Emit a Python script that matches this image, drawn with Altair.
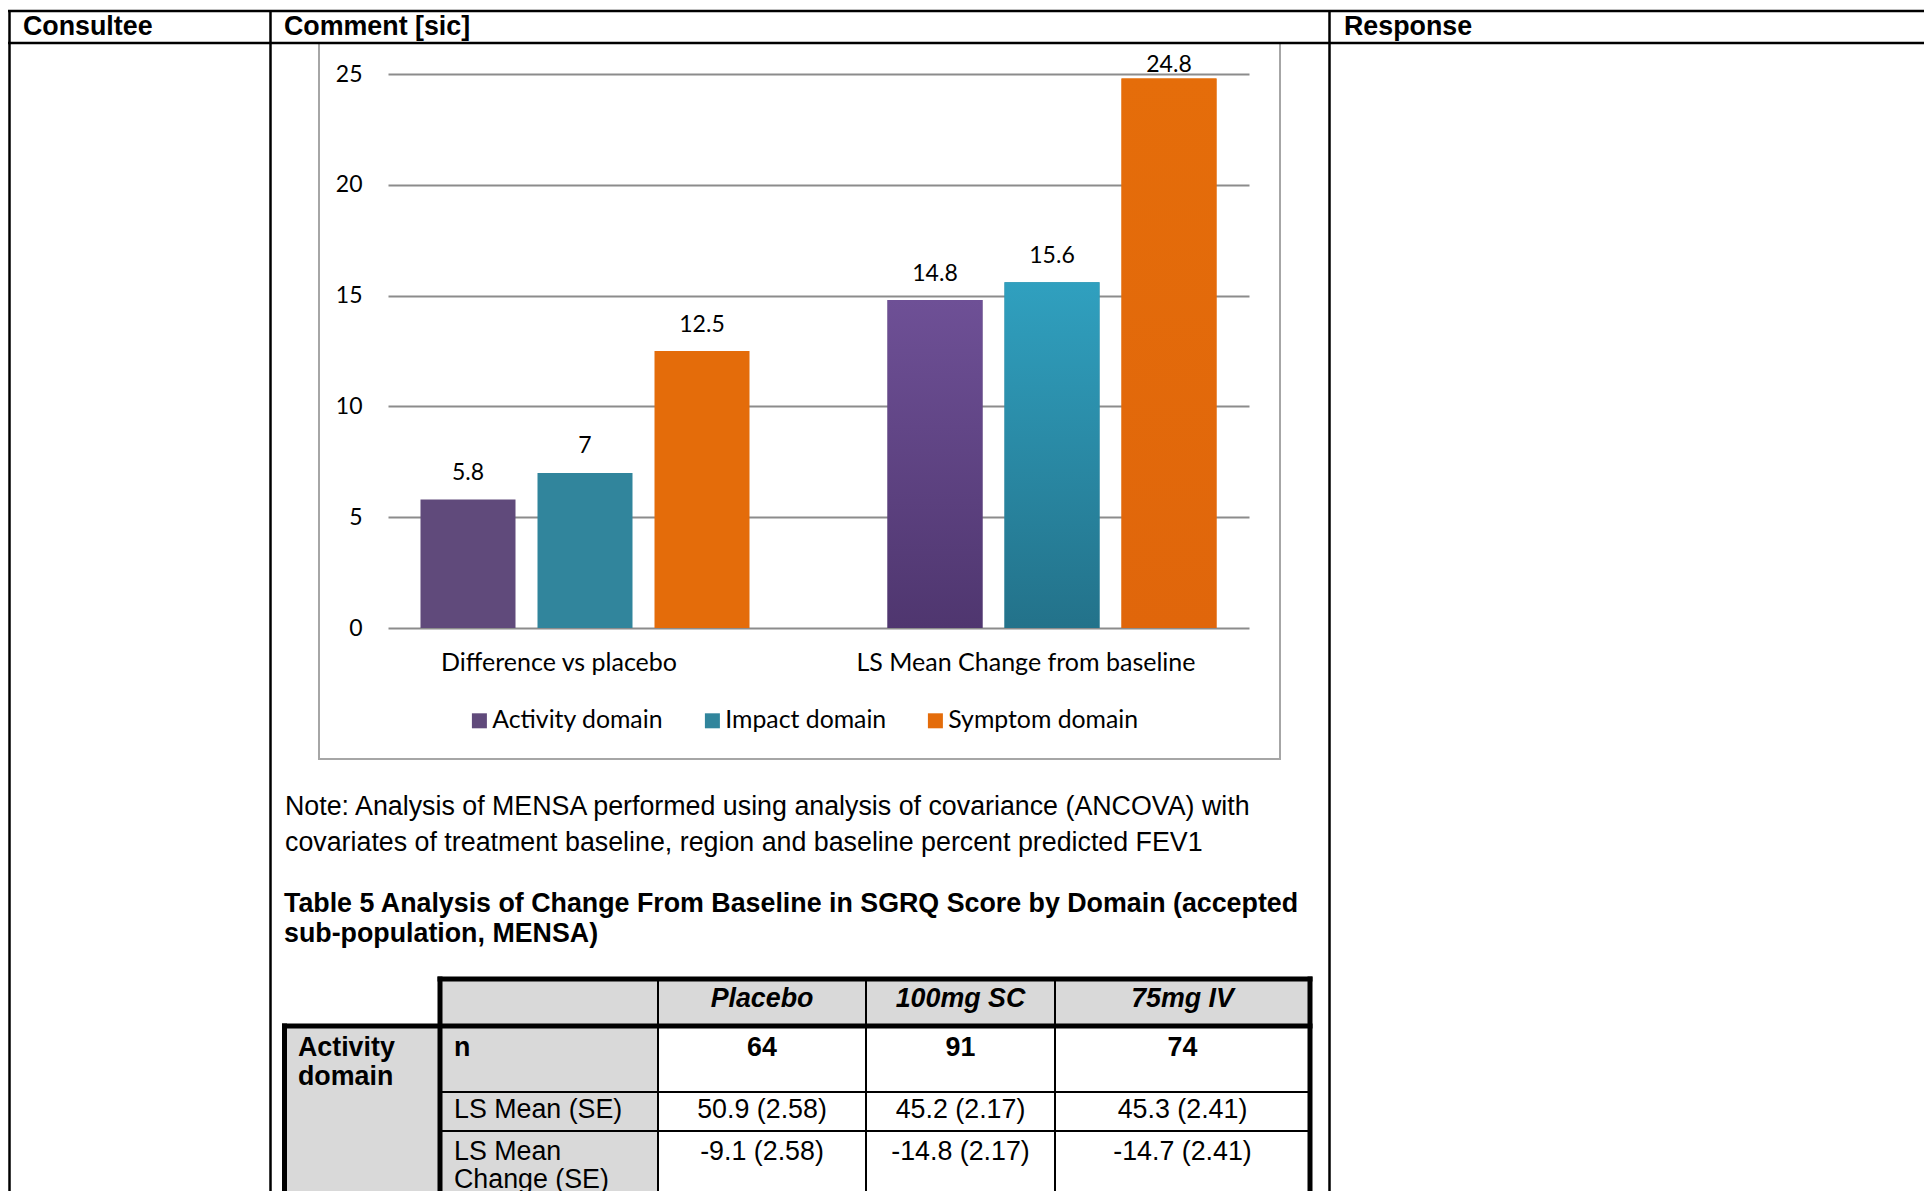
import altair as alt
import pandas as pd

# ---------------- chart values ----------------
groups = ["Difference vs placebo", "LS Mean Change from baseline"]
domains = ["Activity domain", "Impact domain", "Symptom domain"]
diff_vs_placebo = [5.8, 7, 12.5]
ls_mean_change_domain = [14.8, 15.6, 24.8]
domain_colors = ["#604a7b", "#31859c", "#e46c0a"]
y_ticks = [0, 5, 10, 15, 20, 25]

# shaded fills used for the second group of bars (top colour, bottom colour)
shaded = {
    "Activity domain": ("#6e5096", "#4f366f"),
    "Impact domain": ("#30a0bf", "#23728a"),
    "Symptom domain": ("#e56d0a", "#e0660b"),
}

# ---------------- table values ----------------
arms = ["Placebo", "100mg SC", "75mg IV"]
n_patients = [64, 91, 74]
ls_mean = [50.9, 45.2, 45.3]
ls_mean_chg = [-9.1, -14.8, -14.7]
ls_se = [2.58, 2.17, 2.41]

note_lines = [
    "Note: Analysis of MENSA performed using analysis of covariance (ANCOVA) with",
    "covariates of treatment baseline, region and baseline percent predicted FEV1",
]
table_title = [
    "Table 5 Analysis of Change From Baseline in SGRQ Score by Domain (accepted",
    "sub-population, MENSA)",
]

rows = []
for g, vals in zip(groups, [diff_vs_placebo, ls_mean_change_domain]):
    for d, v in zip(domains, vals):
        rows.append({"group": g, "domain": d, "value": v, "label": f"{v:g}"})
bars = pd.DataFrame(rows)

# ---------------- page geometry ----------------
PAGE_W, PAGE_H = 1924, 1191
OX, OY = 388, 74          # top-left corner of the plotting area on the page
W, H = 861, 554           # plotting area

ARIAL = "Liberation Sans"
TEXT_SIZE = 26.8
CHART_FONT = "Lato"

one = pd.DataFrame({"k": [0]})


def rule(x1, y1, x2, y2, width=2.5, color="#000000"):
    return alt.Chart(one).mark_rule(color=color, strokeWidth=width).encode(
        x=alt.value(x1 - OX), x2=alt.value(x2 - OX),
        y=alt.value(y1 - OY), y2=alt.value(y2 - OY),
    )


def box(x1, y1, x2, y2, fill=None, stroke=None, width=0):
    kw = {"strokeWidth": width}
    if fill is not None:
        kw["fill"] = fill
    else:
        kw["fillOpacity"] = 0
    if stroke is not None:
        kw["stroke"] = stroke
    return alt.Chart(one).mark_rect(**kw).encode(
        x=alt.value(x1 - OX), x2=alt.value(x2 - OX),
        y=alt.value(y1 - OY), y2=alt.value(y2 - OY),
    )


def label(s, x, y, weight="normal", style="normal", align="left", size=TEXT_SIZE):
    return alt.Chart(one).mark_text(
        font=ARIAL, fontSize=size, fontWeight=weight, fontStyle=style,
        align=align, baseline="alphabetic", color="#000000",
    ).encode(x=alt.value(x - OX), y=alt.value(y - OY), text=alt.value(s))


# ---------------- bar chart ----------------
x_enc = alt.X(
    "group:N", sort=groups, title=None,
    scale=alt.Scale(paddingInner=0.2955, paddingOuter=0.0696),
    axis=alt.Axis(
        labelAngle=0, ticks=False, tickSize=0, domain=False, grid=False,
        labelFont=CHART_FONT, labelFontSize=25, labelColor="#000000", labelLimit=0,
        labelBaseline="alphabetic", labelPadding=42, labelOffset=-26,
    ),
)
xo_enc = alt.XOffset("domain:N", sort=domains,
                     scale=alt.Scale(paddingInner=22 / 117, paddingOuter=0))
y_enc = alt.Y(
    "value:Q", title=None,
    scale=alt.Scale(domain=[0, 25], nice=False, zero=True),
    axis=alt.Axis(
        values=y_ticks, domain=False, ticks=False, tickSize=0,
        labelFont=CHART_FONT, labelFontSize=23, labelColor="#000000",
        labelPadding=26, gridColor="#8c8c8c", gridWidth=2, gridOpacity=1,
    ),
)

base = alt.Chart(bars).encode(x=x_enc, xOffset=xo_enc, y=y_enc)

bar_layer = base.mark_bar(stroke=None).encode(
    color=alt.Color(
        "domain:N", sort=domains,
        scale=alt.Scale(domain=domains, range=domain_colors),
        legend=alt.Legend(
            title=None, orient="none", direction="horizontal", columns=3,
            legendX=467 - OX, legendY=708 - OY, padding=0,
            symbolType="square", symbolSize=225, symbolStrokeWidth=0,
            labelFont=CHART_FONT, labelFontSize=24.8, labelColor="#000000",
            labelLimit=0, labelOffset=0.5, columnPadding=36,
        ),
    )
)

shade_layers = []
for d in domains:
    top, bottom = shaded[d]
    shade_layers.append(
        base.transform_filter(
            (alt.datum.group == groups[1]) & (alt.datum.domain == d)
        ).mark_bar(
            fill={
                "gradient": "linear", "x1": 0, "x2": 0, "y1": 0, "y2": 1,
                "stops": [
                    {"offset": 0, "color": top},
                    {"offset": 1, "color": bottom},
                ],
            }
        )
    )

value_labels = base.transform_filter(alt.datum.value < 24).mark_text(
    font=CHART_FONT, fontSize=23, color="#000000", baseline="alphabetic", dy=-19.5
).encode(text="label:N")

top_labels = base.transform_filter(alt.datum.value >= 24).mark_text(
    font=CHART_FONT, fontSize=23, color="#000000", baseline="alphabetic", dy=-6.5
).encode(text="label:N")

# ---------------- page furniture ----------------
layers = []

# table cell shading
layers.append(box(440, 979, 1310, 1026, fill="#d9d9d9"))
layers.append(box(284, 1026, 440, PAGE_H, fill="#d9d9d9"))
layers.append(box(440, 1026, 658, PAGE_H, fill="#d9d9d9"))

# chart frame
layers.append(box(319, 43, 1280, 759, stroke="#a6a6a6", width=2))

layers += [bar_layer] + shade_layers + [value_labels, top_labels]

# outer comments table
layers.append(rule(8, 11, PAGE_W, 11))
layers.append(rule(8, 43, PAGE_W, 43))
layers.append(rule(9.5, 10, 9.5, PAGE_H))
layers.append(rule(270.5, 10, 270.5, PAGE_H))
layers.append(rule(1329.5, 10, 1329.5, PAGE_H))

# inner results table: thin rules
for cx in [658, 866, 1055]:
    layers.append(rule(cx, 979, cx, PAGE_H, width=2))
for ry in [1092, 1131]:
    layers.append(rule(440, ry, 1310, ry, width=2))

# inner results table: heavy rules
layers.append(rule(437.5, 979, 1312.5, 979, width=5))
layers.append(rule(282, 1026, 1312.5, 1026, width=5))
layers.append(rule(440, 976.5, 440, PAGE_H, width=5))
layers.append(rule(284.5, 1023.5, 284.5, PAGE_H, width=5))
layers.append(rule(1310, 976.5, 1310, PAGE_H, width=5))

# column headings of the comments table
layers.append(label("Consultee", 23, 35, weight="bold"))
layers.append(label("Comment [sic]", 284, 35, weight="bold"))
layers.append(label("Response", 1344, 35, weight="bold"))

# note and table caption
layers.append(label(note_lines[0], 285, 815))
layers.append(label(note_lines[1], 285, 851))
layers.append(label(table_title[0], 284, 912, weight="bold"))
layers.append(label(table_title[1], 284, 942, weight="bold"))

# results table contents
col_centres = [762, 960.5, 1182.5]
for arm, cx in zip(arms, col_centres):
    layers.append(label(arm, cx, 1007, weight="bold", style="italic", align="center"))
layers.append(label("Activity", 298, 1056, weight="bold"))
layers.append(label("domain", 298, 1085, weight="bold"))
layers.append(label("n", 454, 1056, weight="bold"))
layers.append(label("LS Mean (SE)", 454, 1118))
layers.append(label("LS Mean", 454, 1160))
layers.append(label("Change (SE)", 454, 1188))
for i, cx in enumerate(col_centres):
    layers.append(label(str(n_patients[i]), cx, 1056, weight="bold", align="center"))
    layers.append(label(f"{ls_mean[i]:.1f} ({ls_se[i]:.2f})", cx, 1118, align="center"))
    layers.append(label(f"{ls_mean_chg[i]:.1f} ({ls_se[i]:.2f})", cx, 1160, align="center"))

chart = alt.layer(*layers).properties(
    width=W,
    height=H,
    autosize=alt.AutoSizeParams(type="none"),
    padding={"left": OX, "top": OY, "right": PAGE_W - OX - W, "bottom": PAGE_H - OY - H},
    background="white",
).configure_view(stroke=None)

chart.save("out.html", embed_options={"renderer": "svg", "actions": False})
